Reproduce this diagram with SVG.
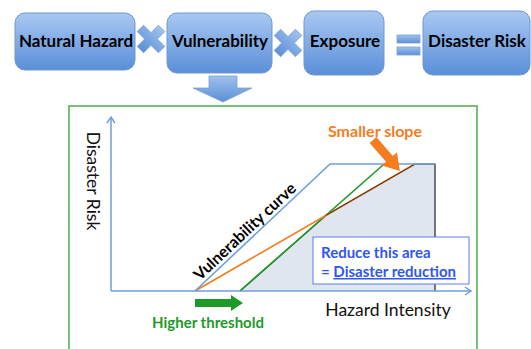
<svg xmlns="http://www.w3.org/2000/svg" width="531" height="349" viewBox="0 0 531 349">
<defs>
<linearGradient id="boxg" x1="0" y1="0" x2="0" y2="1">
<stop offset="0" stop-color="#a9c8f2"/>
<stop offset="1" stop-color="#5a8fd8"/>
</linearGradient>
<linearGradient id="symg" x1="0" y1="0" x2="0" y2="1">
<stop offset="0" stop-color="#9fc1ee"/>
<stop offset="1" stop-color="#5c8fd6"/>
</linearGradient>
<marker id="ax" markerWidth="10" markerHeight="10" refX="8" refY="5" orient="auto" markerUnits="userSpaceOnUse">
<polyline points="2,1 8,5 2,9" fill="none" stroke="#6d9fd6" stroke-width="1.5"/>
</marker>
<style>
.box{fill:url(#boxg);stroke:#6f97cf;stroke-width:1}
.sym{fill:url(#symg);stroke:#7aa0d4;stroke-width:0.8}
.bt{font-family:Lato,"Liberation Sans",sans-serif;font-weight:bold;font-size:17px;fill:#000;text-anchor:middle}
.lbl{font-family:Lato,"Liberation Sans",sans-serif;fill:#111}
.b{font-family:Lato,"Liberation Sans",sans-serif;font-weight:bold}
</style>
</defs>

<g id="natural-hazard"><rect class="box" x="15" y="13" width="120" height="57" rx="10"/><text class="bt" x="76" y="47">Natural Hazard</text></g>
<g id="vulnerability"><rect class="box" x="167" y="13" width="105" height="60" rx="10"/><text class="bt" x="220" y="47">Vulnerability</text></g>
<g id="exposure"><rect class="box" x="304" y="11" width="80" height="64" rx="10"/><text class="bt" x="345" y="47">Exposure</text></g>
<g id="disaster-risk"><rect class="box" x="423" y="11" width="107" height="64" rx="10"/><text class="bt" x="477" y="47">Disaster Risk</text></g>

<g id="operators">
<polygon class="sym" transform="translate(151,39) rotate(45)" points="-4.5,-15 4.5,-15 4.5,-4.5 15,-4.5 15,4.5 4.5,4.5 4.5,15 -4.5,15 -4.5,4.5 -15,4.5 -15,-4.5 -4.5,-4.5"/>
<polygon class="sym" transform="translate(288,43) rotate(45)" points="-4.5,-15 4.5,-15 4.5,-4.5 15,-4.5 15,4.5 4.5,4.5 4.5,15 -4.5,15 -4.5,4.5 -15,4.5 -15,-4.5 -4.5,-4.5"/>
<rect class="sym" x="397" y="35" width="23" height="8"/>
<rect class="sym" x="397" y="47" width="23" height="8"/>
<polygon class="sym" points="209,76 237,76 237,88 252,88 223,102 193,88 209,88"/>
</g>

<rect id="frame" x="69" y="106" width="408" height="260" fill="none" stroke="#4caa4c" stroke-width="1.5"/>

<g id="chart">
<polygon points="240,291 325.7,215.5 415,164 435,164 435,291" fill="#dfe6ef"/>
<polyline points="240,291 325.7,215.5 415,164 435,164 435,291" fill="none" stroke="#222" stroke-width="1.2"/>
<line x1="240" y1="291" x2="383" y2="165" stroke="#1e9a28" stroke-width="1.6"/>
<line x1="195" y1="291" x2="415" y2="164" stroke="#f57c1f" stroke-width="1.6"/>
<line x1="325.7" y1="215.5" x2="415" y2="164" stroke="#222" stroke-width="0.8"/>
<polyline points="195,291 330,164 435,164" fill="none" stroke="#6d9fd6" stroke-width="1.6"/>
</g>

<g id="connectors">
<line x1="111" y1="291" x2="111" y2="117" stroke="#6d9fd6" stroke-width="1.5" marker-end="url(#ax)"/>
<line x1="111" y1="291" x2="471" y2="291" stroke="#6d9fd6" stroke-width="1.5" marker-end="url(#ax)"/>
<polygon transform="translate(373,140) rotate(49)" points="0,-4.5 25,-4.5 25,-10 41,0 25,10 25,4.5 0,4.5" fill="#f57c1f"/>
<polygon points="195,299 231,299 231,295 243,303 231,311 231,307 195,307" fill="#1e9a28"/>
</g>

<text class="lbl" transform="translate(87,181) rotate(90)" text-anchor="middle" font-size="17.5">Disaster Risk</text>
<text class="lbl" x="388" y="316" text-anchor="middle" font-size="17.5">Hazard Intensity</text>
<text class="b" transform="translate(251,238) rotate(-43.25)" x="0" y="-3.5" text-anchor="middle" font-size="16" fill="#000">Vulnerability curve</text>
<text class="b" x="375" y="137" text-anchor="middle" font-size="16" fill="#f57c1f">Smaller slope</text>
<text class="b" x="208" y="328" text-anchor="middle" font-size="15" fill="#1e9a28">Higher threshold</text>

<g id="reduce-box">
<rect x="313" y="237" width="156" height="47" fill="#fff" stroke="#5b7cf5" stroke-width="1"/>
<text class="b" x="321" y="258" font-size="15" fill="#2f57ee">Reduce this area</text>
<text class="b" x="321" y="277" font-size="15" fill="#2f57ee">= <tspan text-decoration="underline">Disaster reduction</tspan></text>
</g>
</svg>
